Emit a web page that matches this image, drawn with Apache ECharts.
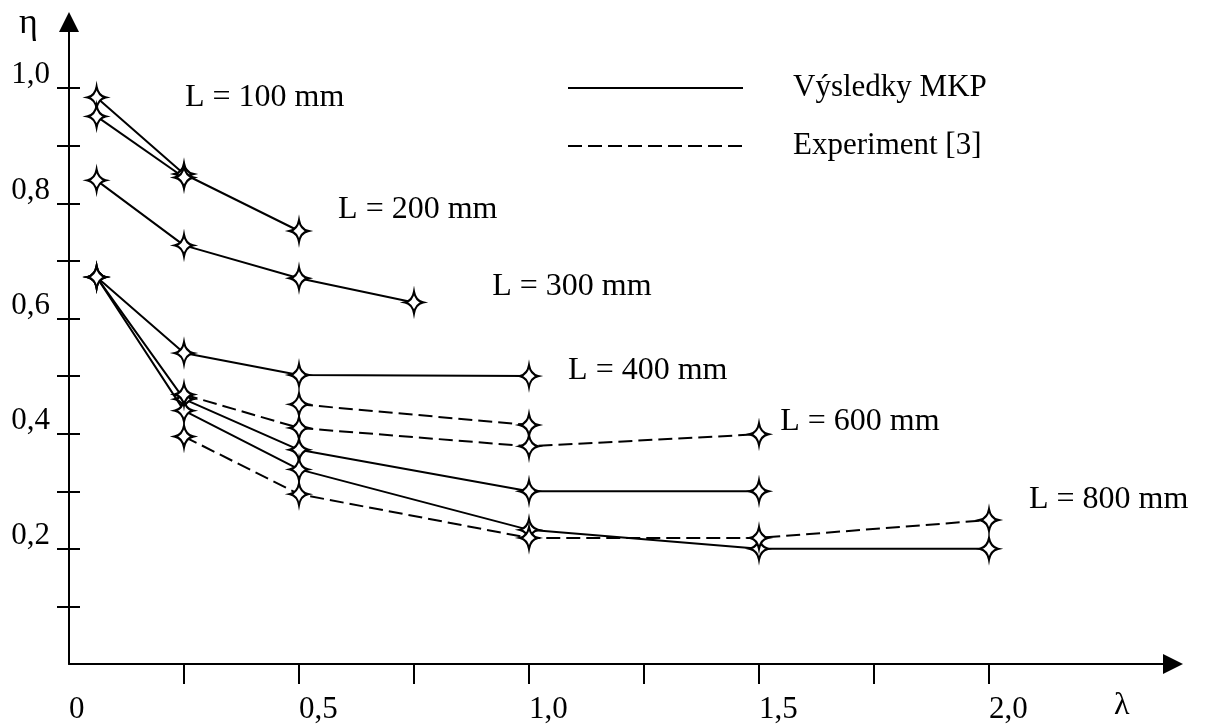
<!DOCTYPE html>
<html lang="cs">

<head>
    <meta charset="UTF-8">
    <script src="https://cdn.jsdelivr.net/npm/echarts@6/dist/echarts.min.js"></script>
    <title>eta - lambda</title>
    <style>
        html, body { margin: 0; padding: 0; background: #fff; }
    </style>
</head>

<body>
    <div id="main" style="width: 1207px; height: 728px;"></div>

    <script>
        // MKP results (solid lines), [lambda, eta]
        var mkp100a = [[0.06, 0.984], [0.25, 0.851], [0.5, 0.752]];
        var mkp100b = [[0.06, 0.951], [0.25, 0.845]];
        var mkp200 = [[0.06, 0.840], [0.25, 0.727], [0.5, 0.670], [0.75, 0.628]];
        var mkp300 = [[0.06, 0.672], [0.25, 0.540], [0.5, 0.502], [1.0, 0.500]];
        var mkp400 = [[0.06, 0.672], [0.25, 0.460], [0.5, 0.372], [1.0, 0.300], [1.5, 0.300]];
        var mkp600 = [[0.06, 0.672], [0.25, 0.440], [0.5, 0.338], [1.0, 0.233], [1.5, 0.200], [2.0, 0.200]];

        // experiment [3] (dashed lines)
        var exp1 = [[0.5, 0.451], [1.0, 0.415]];
        var exp2 = [[0.25, 0.468], [0.5, 0.410], [1.0, 0.378], [1.5, 0.399]];
        var exp3 = [[0.25, 0.395], [0.5, 0.295], [1.0, 0.219], [1.5, 0.219], [2.0, 0.250]];

        // curve captions and where they sit (left edge of text, middle)
        var lengthNames = ['L = 100 mm', 'L = 200 mm', 'L = 300 mm', 'L = 400 mm', 'L = 600 mm', 'L = 800 mm'];
        var lengthAnchors = [[0.252, 0.984], [0.585, 0.790], [0.920, 0.655], [1.085, 0.510], [1.546, 0.421], [2.087, 0.285]];

        // ticks and labels
        var xTicks = [0.25, 0.5, 0.75, 1.0, 1.25, 1.5, 1.75, 2.0];
        var xLabels = [0, 0.5, 1.0, 1.5, 2.0];
        var yTicks = [0.1, 0.2, 0.3, 0.4, 0.5, 0.6, 0.7, 0.8, 0.9, 1.0];
        var yLabels = [0.2, 0.4, 0.6, 0.8, 1.0];

        var legendNames = ['Výsledky MKP', 'Experiment [3]'];

        var FONT = 'Liberation Serif';
        var STAR = 'path://M0,-10 Q1.6,-1.6 9,0 Q1.6,1.6 0,10 Q-1.6,1.6 -9,0 Q-1.6,-1.6 0,-10 Z';

        function fmt(v) {
            if (v === 0) return '0';
            return v.toFixed(1).replace('.', ',');
        }

        var chart = echarts.init(document.getElementById('main'));

        var series = [];
        // legend-only series, so the legend shows bare lines
        series.push({ name: legendNames[0], type: 'line', data: [], symbol: 'none', color: '#000', lineStyle: { color: '#000', width: 2 } });
        series.push({ name: legendNames[1], type: 'line', data: [], symbol: 'none', color: '#000', lineStyle: { color: '#000', width: 2, type: [14, 6] } });

        function addCurve(id, data, dashed) {
            series.push({
                id: id,
                type: 'line',
                data: data,
                symbol: 'none',
                silent: true,
                z: 2,
                lineStyle: { color: '#000', width: 2, type: dashed ? [14, 6] : 'solid' }
            });
            series.push({
                id: id + '-pts',
                type: 'scatter',
                data: data,
                symbol: STAR,
                symbolSize: [18, 22],
                silent: true,
                z: 5,
                itemStyle: { color: '#fff', borderColor: '#000', borderWidth: 2.2, opacity: 1 }
            });
        }

        addCurve('m100a', mkp100a, false);
        addCurve('m100b', mkp100b, false);
        addCurve('m200', mkp200, false);
        addCurve('m300', mkp300, false);
        addCurve('m400', mkp400, false);
        addCurve('m600', mkp600, false);
        addCurve('e1', exp1, true);
        addCurve('e2', exp2, true);
        addCurve('e3', exp3, true);

        series.push({
            type: 'scatter',
            silent: true,
            symbolSize: 0,
            z: 6,
            itemStyle: { opacity: 1 },
            data: lengthNames.map(function (n, i) {
                return { name: n, value: lengthAnchors[i] };
            }),
            label: {
                show: true,
                position: 'right',
                distance: 0,
                formatter: '{b}',
                fontFamily: FONT,
                fontSize: 32,
                color: '#000'
            }
        });

        var option = {
            animation: false,
            backgroundColor: '#fff',
            grid: { left: 69, right: 34, top: 22, bottom: 64 },
            legend: {
                data: legendNames,
                orient: 'vertical',
                left: 567,
                top: 68,
                padding: 0,
                itemWidth: 175,
                itemHeight: 14,
                itemGap: 18,
                selectedMode: false,
                itemStyle: { opacity: 0 },
                textStyle: {
                    fontFamily: FONT,
                    fontSize: 31,
                    lineHeight: 30,
                    color: '#000',
                    padding: [0, 0, 10, 45]
                }
            },
            xAxis: {
                type: 'value',
                min: 0,
                max: 2.4,
                splitLine: { show: false },
                axisLine: {
                    show: true,
                    onZero: false,
                    symbol: ['none', 'triangle'],
                    symbolSize: [20, 20],
                    lineStyle: { color: '#000', width: 2 }
                },
                axisTick: {
                    show: true,
                    length: 20,
                    customValues: xTicks,
                    lineStyle: { color: '#000', width: 2 }
                },
                axisLabel: {
                    customValues: xLabels,
                    formatter: fmt,
                    align: 'left',
                    verticalAlign: 'middle',
                    margin: 46,
                    fontFamily: FONT,
                    fontSize: 31,
                    color: '#000'
                }
            },
            yAxis: [{
                type: 'value',
                min: 0,
                max: 1.115,
                splitLine: { show: false },
                axisLine: {
                    show: true,
                    onZero: false,
                    symbol: ['none', 'triangle'],
                    symbolSize: [20, 20],
                    lineStyle: { color: '#000', width: 2 }
                },
                axisTick: {
                    show: true,
                    length: 12,
                    customValues: yTicks,
                    lineStyle: { color: '#000', width: 2 }
                },
                axisLabel: {
                    customValues: yLabels,
                    formatter: fmt,
                    margin: 19,
                    verticalAlign: 'bottom',
                    lineHeight: 26,
                    fontFamily: FONT,
                    fontSize: 31,
                    color: '#000'
                }
            }, {
                // second copy only for the tick halves inside the plot
                type: 'value',
                position: 'left',
                min: 0,
                max: 1.115,
                splitLine: { show: false },
                axisLine: { show: false },
                axisTick: {
                    show: true,
                    inside: true,
                    length: 11,
                    customValues: yTicks,
                    lineStyle: { color: '#000', width: 2 }
                },
                axisLabel: { show: false }
            }],
            graphic: [{
                type: 'text',
                left: 19,
                top: 6,
                style: { text: 'η', fontFamily: FONT, fontSize: 36, fill: '#000' }
            }, {
                type: 'text',
                left: 1114,
                top: 690,
                style: { text: 'λ', fontFamily: FONT, fontSize: 32, fill: '#000' }
            }],
            series: series
        };

        chart.setOption(option);
    </script>
</body>

</html>
